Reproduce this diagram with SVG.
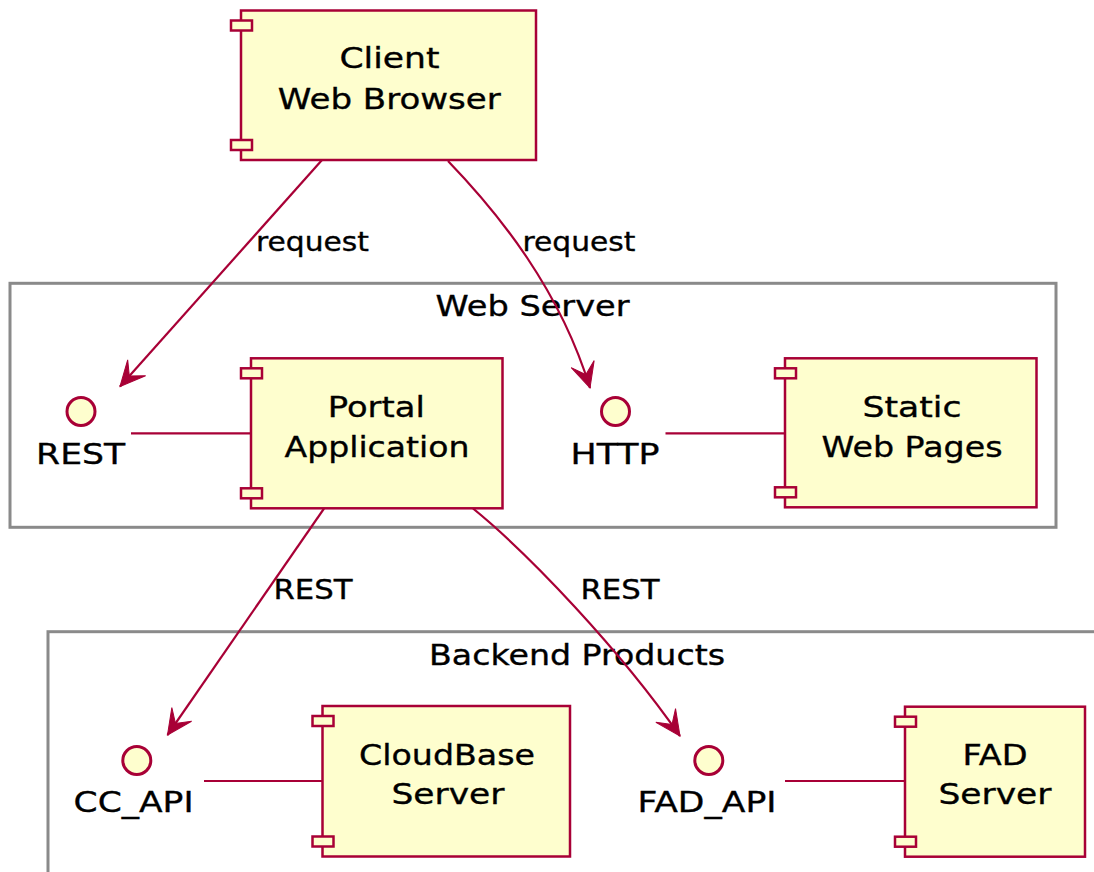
<svg xmlns="http://www.w3.org/2000/svg" width="1094" height="872" viewBox="0 0 1094 872">
<style>
.frame{fill:#ffffff;stroke:#8a8a8a;stroke-width:3}
.comp{fill:#FEFECE;stroke:#A80036;stroke-width:2.5}
.port{fill:#FEFECE;stroke:#A80036;stroke-width:2.5}
.iface{fill:#FEFECE;stroke:#A80036;stroke-width:3}
.link{fill:none;stroke:#A80036;stroke-width:2.2}
.t{font-family:"DejaVu Sans",sans-serif;fill:#000000;stroke:#000000;stroke-width:0.35;text-anchor:middle}
.n{font-size:29px}
.f{font-size:28px}
.e{font-size:27px}
</style>
<defs>
<marker id="ah" markerUnits="userSpaceOnUse" viewBox="-27 -14 29 28" markerWidth="29" markerHeight="28" refX="0" refY="0" orient="auto" overflow="visible">
<path d="M0,0 L-25,-12 L-14,0 L-25,12 Z" fill="#A80036" stroke="#A80036" stroke-width="1"/>
</marker>
</defs>

<g id="web-server-frame">
<rect class="frame" x="10" y="283.3" width="1046" height="244"/>
<text class="t f" x="532.5" y="315.5" textLength="194" lengthAdjust="spacingAndGlyphs">Web Server</text>
</g>
<g id="backend-frame">
<rect class="frame" x="48" y="631.7" width="1060" height="260"/>
<text class="t f" x="577" y="664.5" textLength="296" lengthAdjust="spacingAndGlyphs">Backend Products</text>
</g>

<g id="connectors">
<line class="link" x1="322" y1="160" x2="120" y2="386.5" marker-end="url(#ah)"/>
<path class="link" d="M448,161 C500,215 560,290 590,388" marker-end="url(#ah)"/>
<line class="link" x1="324" y1="508.5" x2="167.5" y2="735" marker-end="url(#ah)"/>
<path class="link" d="M473,508.5 C530,555 620,650 680,736" marker-end="url(#ah)"/>
<line class="link" x1="131" y1="433.3" x2="251" y2="433.3"/>
<line class="link" x1="665.5" y1="433.3" x2="785" y2="433.3"/>
<line class="link" x1="204" y1="781" x2="322.5" y2="781"/>
<line class="link" x1="785" y1="781" x2="905" y2="781"/>
<text class="t e" x="312.5" y="250.5" textLength="113" lengthAdjust="spacingAndGlyphs">request</text>
<text class="t e" x="579" y="250.5" textLength="113" lengthAdjust="spacingAndGlyphs">request</text>
<text class="t e" x="313" y="599.3" textLength="79" lengthAdjust="spacingAndGlyphs">REST</text>
<text class="t e" x="620" y="599.3" textLength="79" lengthAdjust="spacingAndGlyphs">REST</text>
</g>

<g id="client">
<rect class="comp" x="241" y="10.5" width="295" height="149.5"/>
<rect class="port" x="231" y="20.5" width="21" height="10"/>
<rect class="port" x="231" y="140" width="21" height="10"/>
<text class="t n" x="389.5" y="68.3" textLength="100" lengthAdjust="spacingAndGlyphs">Client</text>
<text class="t n" x="389.3" y="109.3" textLength="223" lengthAdjust="spacingAndGlyphs">Web Browser</text>
</g>

<g id="rest-iface">
<circle class="iface" cx="81" cy="411.5" r="14"/>
<text class="t n" x="80.6" y="464.3" textLength="89" lengthAdjust="spacingAndGlyphs">REST</text>
</g>

<g id="portal">
<rect class="comp" x="251" y="358.3" width="251.5" height="150"/>
<rect class="port" x="241" y="368.3" width="21" height="10"/>
<rect class="port" x="241" y="488.3" width="21" height="10"/>
<text class="t n" x="376.3" y="416.7" textLength="97" lengthAdjust="spacingAndGlyphs">Portal</text>
<text class="t n" x="377" y="456.7" textLength="185" lengthAdjust="spacingAndGlyphs">Application</text>
</g>

<g id="http-iface">
<circle class="iface" cx="615.5" cy="411.5" r="14"/>
<text class="t n" x="615" y="464.3" textLength="89" lengthAdjust="spacingAndGlyphs">HTTP</text>
</g>

<g id="static">
<rect class="comp" x="785" y="358.3" width="251.5" height="149"/>
<rect class="port" x="775" y="368.3" width="21" height="10"/>
<rect class="port" x="775" y="487.3" width="21" height="10"/>
<text class="t n" x="912" y="416.7" textLength="99" lengthAdjust="spacingAndGlyphs">Static</text>
<text class="t n" x="912" y="456.7" textLength="181" lengthAdjust="spacingAndGlyphs">Web Pages</text>
</g>

<g id="cc-api">
<circle class="iface" cx="136.8" cy="760.5" r="14"/>
<text class="t n" x="133.6" y="811.7" textLength="120" lengthAdjust="spacingAndGlyphs">CC_API</text>
</g>

<g id="cloudbase">
<rect class="comp" x="322.5" y="706" width="247.5" height="150.5"/>
<rect class="port" x="312.5" y="716" width="21" height="10"/>
<rect class="port" x="312.5" y="836.5" width="21" height="10"/>
<text class="t n" x="447" y="765" textLength="176" lengthAdjust="spacingAndGlyphs">CloudBase</text>
<text class="t n" x="448" y="804" textLength="113" lengthAdjust="spacingAndGlyphs">Server</text>
</g>

<g id="fad-api">
<circle class="iface" cx="708.8" cy="760.5" r="14"/>
<text class="t n" x="707" y="811.7" textLength="139" lengthAdjust="spacingAndGlyphs">FAD_API</text>
</g>

<g id="fad">
<rect class="comp" x="905" y="706.7" width="180" height="150"/>
<rect class="port" x="895" y="716.7" width="21" height="10"/>
<rect class="port" x="895" y="836.7" width="21" height="10"/>
<text class="t n" x="995" y="765" textLength="65" lengthAdjust="spacingAndGlyphs">FAD</text>
<text class="t n" x="995" y="804" textLength="113" lengthAdjust="spacingAndGlyphs">Server</text>
</g>
</svg>
